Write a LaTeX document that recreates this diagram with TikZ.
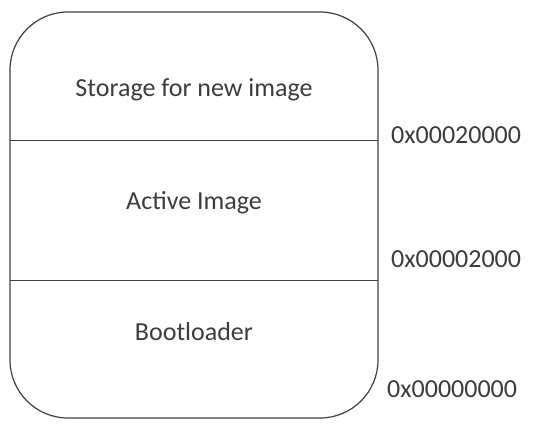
\documentclass[tikz,border=0pt]{standalone}
\usepackage{fontspec}
\setmainfont{Carlito}
\usepackage{tikz}
\usetikzlibrary{positioning}
\definecolor{inkgray}{HTML}{3C3C3C}

\begin{document}
\begin{tikzpicture}[x=1pt, y=-1pt,
    region/.style={font=\fontsize{26}{30}\selectfont, text=inkgray, anchor=base, inner sep=0pt},
    addr/.style={font=\fontsize{26}{30}\selectfont, text=inkgray, anchor=base west, inner sep=0pt},
    wall/.style={draw=black!75, line width=1.2pt}]
    \useasboundingbox (0,0) rectangle (559,423);
    % memory map outline
    \draw[wall, rounded corners=58pt] (10,12) rectangle (378,418);
    \coordinate (top l) at (10,140);
    \coordinate (top r) at (378,140);
    \coordinate (mid l) at (10,280);
    \coordinate (mid r) at (378,280);
    \draw[wall, line width=1pt] (top l) -- (top r);
    \draw[wall, line width=1pt] (mid l) -- (mid r);
    % regions
    \node[region] (storage) at (194,96) {Storage for new image};
    \node[region] (active) at (194,209) {Active Image};
    \node[region] (boot) at (194,340) {Bootloader};
    % addresses
    \node[addr] (a20000) at (391,143) {0x00020000};
    \node[addr] (a2000) at (391,267) {0x00002000};
    \node[addr] (a0) at (387,397) {0x00000000};
\end{tikzpicture}
\end{document}
